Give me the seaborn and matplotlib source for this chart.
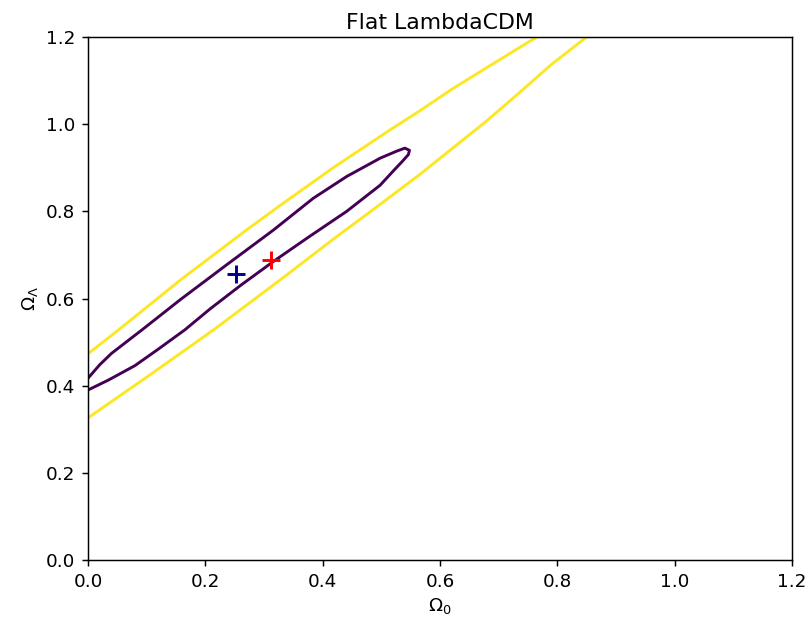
import numpy as np
import pandas as pd
import seaborn as sns
import matplotlib
matplotlib.use("Agg")
import matplotlib.pyplot as plt

# contour lines (Omega_0, Omega_Lambda)
inner_x = [0.0, 0.020, 0.040, 0.092, 0.157, 0.236, 0.316, 0.384, 0.441, 0.498, 0.526, 0.540, 0.548,
           0.546, 0.536, 0.522, 0.498, 0.441, 0.375, 0.316, 0.260, 0.208, 0.165, 0.120, 0.080, 0.035, 0.0]
inner_y = [0.417, 0.448, 0.474, 0.528, 0.597, 0.677, 0.757, 0.830, 0.880, 0.922, 0.938, 0.945, 0.940,
           0.930, 0.915, 0.895, 0.860, 0.800, 0.740, 0.685, 0.630, 0.576, 0.528, 0.484, 0.446, 0.413, 0.390]

outer_up_x = [0.0, 0.052, 0.160, 0.270, 0.327, 0.420, 0.515, 0.566, 0.620, 0.680, 0.765]
outer_up_y = [0.473, 0.528, 0.645, 0.757, 0.813, 0.902, 0.987, 1.031, 1.080, 1.130, 1.200]

outer_lo_x = [0.0, 0.109, 0.214, 0.327, 0.420, 0.498, 0.566, 0.617, 0.680, 0.736, 0.790, 0.850]
outer_lo_y = [0.326, 0.428, 0.528, 0.642, 0.738, 0.816, 0.885, 0.940, 1.008, 1.073, 1.137, 1.200]

# best fit points
blue_pt = (0.252, 0.656)
red_pt = (0.312, 0.688)

s = 1.32
plt.rcParams.update({
    'font.size': 10 * s,
    'axes.linewidth': 0.8 * s,
    'xtick.major.size': 3.5 * s,
    'ytick.major.size': 3.5 * s,
    'xtick.major.width': 0.8 * s,
    'ytick.major.width': 0.8 * s,
    'xtick.major.pad': 3.5 * s,
    'ytick.major.pad': 3.5 * s,
    'lines.solid_joinstyle': 'round',
})

fig = plt.figure(figsize=(8.07, 6.24), dpi=100)
ax = fig.add_axes([88 / 807, 64 / 624, 704 / 807, 523 / 624])

cmap = plt.get_cmap('viridis')
inner = pd.DataFrame({'x': inner_x, 'y': inner_y})
up = pd.DataFrame({'x': outer_up_x, 'y': outer_up_y})
lo = pd.DataFrame({'x': outer_lo_x, 'y': outer_lo_y})

sns.lineplot(data=inner, x='x', y='y', sort=False, estimator=None, color=cmap(0.0), lw=2.1, ax=ax)
sns.lineplot(data=up, x='x', y='y', sort=False, estimator=None, color=cmap(1.0), lw=2.1, ax=ax)
sns.lineplot(data=lo, x='x', y='y', sort=False, estimator=None, color=cmap(1.0), lw=2.1, ax=ax)

ax.plot(blue_pt[0], blue_pt[1], '+', color='darkblue', ms=13, mew=2.1, zorder=5)
ax.plot(red_pt[0], red_pt[1], '+', color='red', ms=13, mew=2.1, zorder=5)

ax.set_xlim(0, 1.2)
ax.set_ylim(0, 1.2)
ax.set_xticks(np.arange(0, 1.21, 0.2))
ax.set_yticks(np.arange(0, 1.21, 0.2))
ax.set_xlabel(r'$\Omega_0$')
ax.set_ylabel(r'$\Omega_\Lambda$')
ax.set_title('Flat LambdaCDM')

fig.savefig('out.png', dpi=100)
